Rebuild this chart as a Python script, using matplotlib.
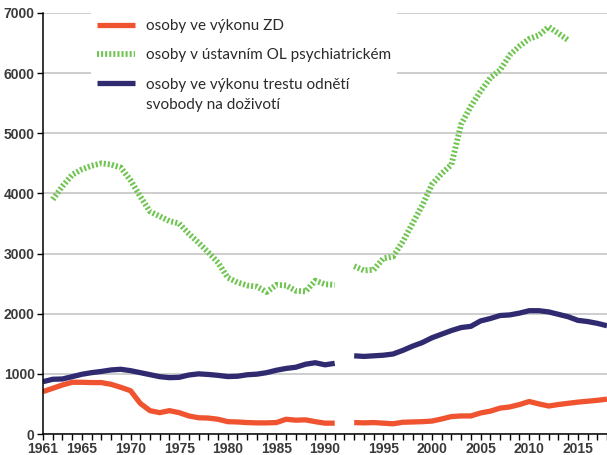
import matplotlib.pyplot as plt
import numpy as np

# years before and after the 1992 break (one empty category in between)
years_early = list(range(1961, 1992))
years_late = list(range(1992, 2019))

zd_early = [705, 760, 815, 860, 860, 855, 855, 826, 776, 720,
            510, 388, 355, 388, 355, 300, 270, 265, 245, 205,
            200, 190, 185, 185, 190, 245, 230, 235, 205, 180, 180]
zd_late = [190, 185, 190, 180, 170, 195, 200, 205, 215, 250,
           290, 300, 300, 350, 380, 430, 450, 490, 540, 500,
           465, 490, 510, 530, 545, 560, 580]

ol_early = [np.nan, 3900, 4120, 4310, 4400, 4460, 4500, 4480, 4430, 4220,
            3950, 3700, 3620, 3540, 3500, 3330, 3180, 3020, 2850, 2600,
            2520, 2470, 2450, 2360, 2480, 2470, 2380, 2370, 2550, 2490, 2480]
ol_late = [2790, 2720, 2730, 2920, 2950, 3200, 3500, 3800, 4150, 4330,
           4480, 5150, 5450, 5700, 5920, 6050, 6300, 6450, 6570, 6630,
           6770, 6660, 6550, np.nan, np.nan, np.nan, np.nan]

life_early = [870, 910, 915, 953, 993, 1020, 1040, 1065, 1076, 1053,
              1020, 987, 953, 937, 942, 981, 1000, 990, 975, 955,
              960, 985, 995, 1020, 1060, 1090, 1110, 1160, 1185, 1150, 1175]
life_late = [1300, 1290, 1300, 1310, 1330, 1390, 1460, 1520, 1600, 1660,
             1720, 1770, 1790, 1880, 1920, 1970, 1980, 2010, 2050, 2050,
             2030, 1990, 1950, 1890, 1870, 1840, 1800]

labels = ['osoby ve výkonu ZD',
          'osoby v ústavním OL psychiatrickém',
          'osoby ve výkonu trestu odnětí\nsvobody na doživotí']
tick_years = [1961, 1965, 1970, 1975, 1980, 1985, 1990, 1995, 2000, 2005, 2010, 2015]

years = years_early + [None] + years_late
x = np.arange(len(years))
zd = np.array(zd_early + [np.nan] + zd_late, dtype=float)
ol = np.array(ol_early + [np.nan] + ol_late, dtype=float)
life = np.array(life_early + [np.nan] + life_late, dtype=float)

fig = plt.figure(figsize=(6.07, 4.55), dpi=100)
ax = fig.add_axes([43 / 607, 21 / 455, 1 - 43 / 607, 421 / 455])

red = '#f0532f'
green = '#70c552'
navy = '#302b70'

ax.plot(x, zd, color=red, lw=3.8, solid_capstyle='butt', solid_joinstyle='round', label=labels[0])
ax.plot(x, ol, color=green, lw=4.2, dashes=(0.35, 0.35), dash_capstyle='butt', label=labels[1])
ax.plot(x, life, color=navy, lw=3.8, solid_capstyle='butt', solid_joinstyle='round', label=labels[2])

ax.set_ylim(0, 7000)
ax.set_xlim(0, 57.7)
ax.set_yticks(range(0, 7001, 1000))
ax.yaxis.grid(True, color='#c6c6c6', lw=1.2)
ax.set_axisbelow(True)

tick_pos = [years.index(y) for y in tick_years]
ax.set_xticks(tick_pos)
ax.set_xticklabels([str(y) for y in tick_years])
ax.set_xticks(x, minor=True)

for s in ['top', 'right']:
    ax.spines[s].set_visible(False)
ax.spines['left'].set_linewidth(1.1)
ax.spines['bottom'].set_linewidth(1.1)

ax.tick_params(axis='both', which='both', direction='out', length=4, width=1, color='black',
               labelsize=10, labelcolor='#3a3a3a', pad=2)
for t in ax.get_xticklabels() + ax.get_yticklabels():
    t.set_fontfamily('Liberation Sans')
    t.set_fontweight('bold')

leg = ax.legend(loc='upper left', bbox_to_anchor=(0.085, 1.0), frameon=True, fancybox=False,
                facecolor='white', edgecolor='none', framealpha=1,
                prop={'family': 'Lato', 'size': 11}, handlelength=2.5, handletextpad=0.7,
                labelspacing=1.0, borderpad=0.4, borderaxespad=0)
for t in leg.get_texts():
    t.set_color('#2a2a2a')
    t.set_linespacing(1.6)

# put the handle of the two-line entry next to its first line
h = leg.legend_handles[2]
h.set_ydata(np.asarray(h.get_ydata()) + 8.5)

fig.savefig('out.png', dpi=100)
